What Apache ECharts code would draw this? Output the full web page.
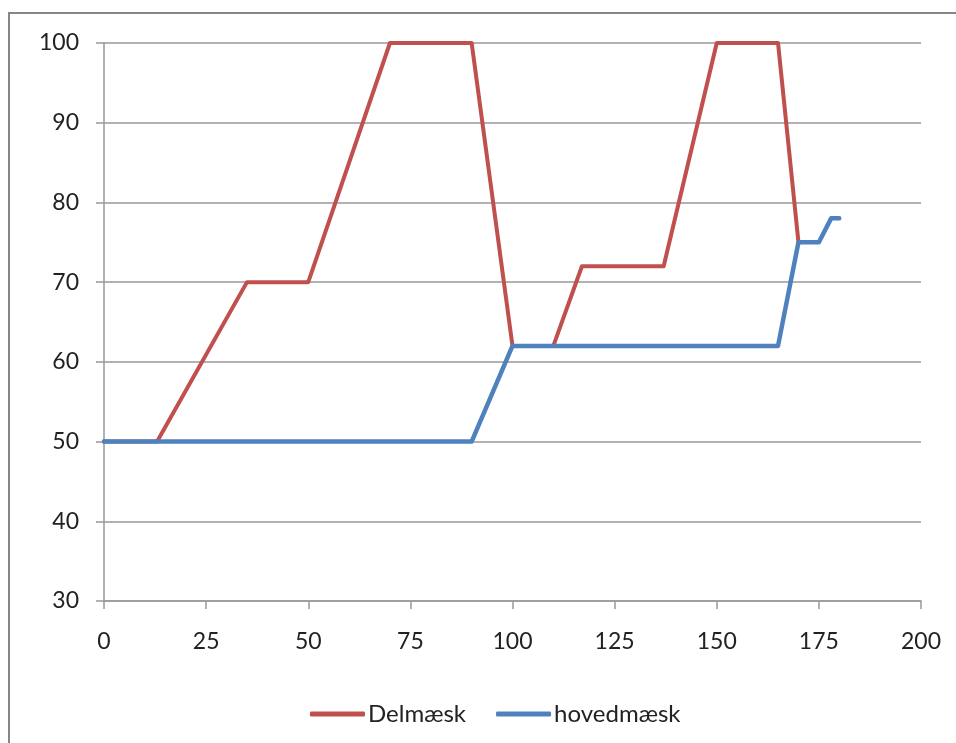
<!DOCTYPE html>
<html>
<head>
<meta charset="utf-8">
<script src="https://cdn.jsdelivr.net/npm/echarts@6/dist/echarts.min.js"></script>
<style>
html,body{margin:0;padding:0;background:#fff;}
#chart{width:956px;height:743px;}
</style>
</head>
<body>
<div id="chart"></div>
<script>
// Mash temperature profiles: time (min) vs temperature (°C)
const delmaeskX = [0, 13, 35, 50, 70, 90, 100, 110, 117, 137, 150, 165, 170];
const delmaeskY = [50, 50, 70, 70, 100, 100, 62, 62, 72, 72, 100, 100, 75];
const hovedX = [0, 90, 100, 165, 170, 175, 178, 180];
const hovedY = [50, 50, 62, 62, 75, 75, 78, 78];
const seriesNames = ['Delmæsk', 'hovedmæsk'];

const pairs = (xs, ys) => xs.map((x, i) => [x, ys[i]]);
const font = 'Lato, "Open Sans", sans-serif';

const chart = echarts.init(document.getElementById('chart'));
chart.setOption({
  animation: false,
  backgroundColor: '#fff',
  graphic: [{
    type: 'rect',
    shape: { x: 9, y: 13, width: 1000, height: 1000 },
    style: { fill: 'none', stroke: '#868686', lineWidth: 2 },
    silent: true
  }],
  grid: { left: 104, right: 35, top: 43, bottom: 142 },
  xAxis: {
    type: 'value', min: 0, max: 200, interval: 25,
    axisLine: { show: true, lineStyle: { color: '#999', width: 1.5 } },
    axisTick: { show: true, length: 8, lineStyle: { color: '#999', width: 1.5 } },
    splitLine: { show: false },
    axisLabel: { color: '#222', fontSize: 23, fontFamily: font, margin: 29 }
  },
  yAxis: {
    type: 'value', min: 30, max: 100, interval: 10,
    axisLine: { show: true, lineStyle: { color: '#999', width: 1.5 } },
    axisTick: { show: true, length: 8, lineStyle: { color: '#999', width: 1.5 } },
    splitLine: { show: true, lineStyle: { color: '#999', width: 1.5 } },
    axisLabel: { color: '#222', fontSize: 23, fontFamily: font, margin: 25 }
  },
  legend: {
    top: 697, left: 305,
    icon: 'roundRect',
    itemWidth: 55, itemHeight: 5, itemGap: 30,
    textStyle: { color: '#222', fontSize: 24, fontFamily: font, padding: [0, 0, 0, -2] },
    data: seriesNames
  },
  series: [
    {
      name: seriesNames[0], type: 'line', data: pairs(delmaeskX, delmaeskY),
      symbol: 'none', color: '#C0504D',
      lineStyle: { width: 4, color: '#C0504D', cap: 'round', join: 'round' }
    },
    {
      name: seriesNames[1], type: 'line', data: pairs(hovedX, hovedY),
      symbol: 'none', color: '#4F81BD',
      lineStyle: { width: 4.5, color: '#4F81BD', cap: 'round', join: 'round' }
    }
  ]
});
</script>
</body>
</html>
